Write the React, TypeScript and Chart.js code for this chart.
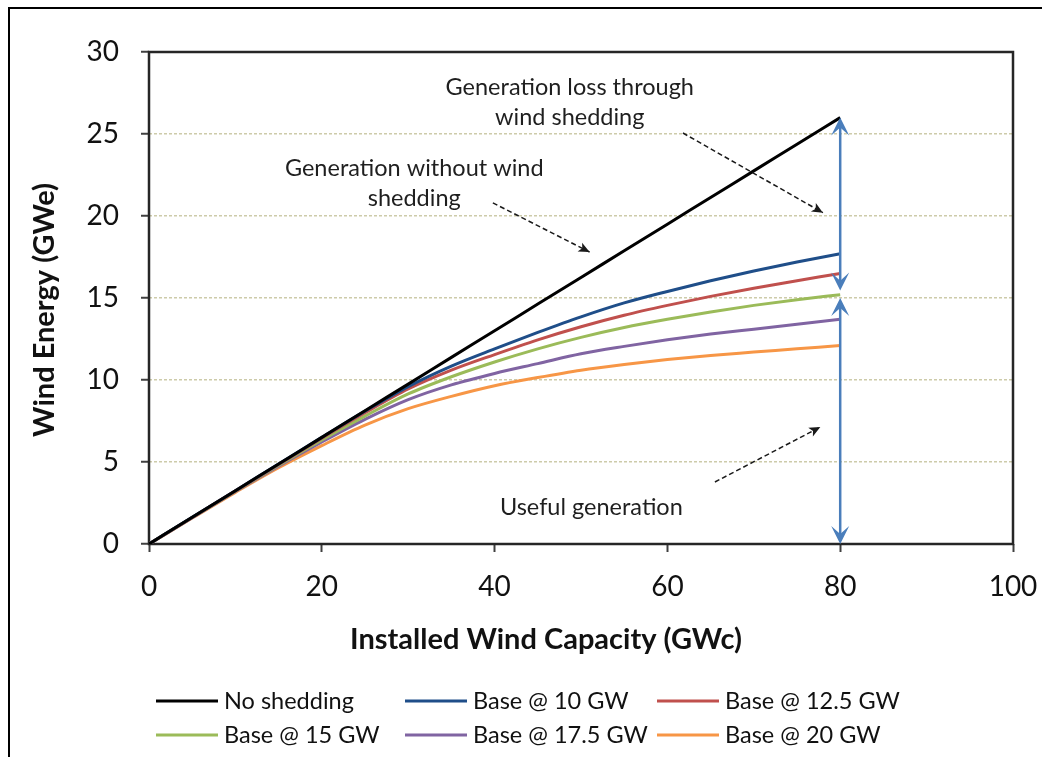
import React, { useEffect, useRef } from "react";
import { Chart, registerables } from "chart.js";

Chart.register(...registerables);

// ---------- data ----------
const capacity = [0, 5, 10, 15, 20, 25, 30, 35, 40, 45, 50, 55, 60, 65, 70, 75, 80];
const noShedding = [0, 1.63, 3.25, 4.88, 6.5, 8.13, 9.75, 11.38, 13.0, 14.63, 16.25, 17.88, 19.5, 21.13, 22.75, 24.38, 26.0];
const base10 = [0, 1.63, 3.25, 4.88, 6.5, 8.1, 9.6, 10.85, 11.9, 12.9, 13.85, 14.7, 15.4, 16.05, 16.65, 17.2, 17.7];
const base125 = [0, 1.62, 3.24, 4.85, 6.45, 8.0, 9.45, 10.6, 11.55, 12.45, 13.25, 13.95, 14.55, 15.1, 15.6, 16.05, 16.5];
const base15 = [0, 1.62, 3.22, 4.8, 6.35, 7.8, 9.15, 10.2, 11.1, 11.9, 12.6, 13.2, 13.7, 14.15, 14.55, 14.9, 15.2];
const base175 = [0, 1.6, 3.2, 4.75, 6.22, 7.6, 8.8, 9.7, 10.4, 11.0, 11.6, 12.05, 12.45, 12.8, 13.1, 13.4, 13.7];
const base20 = [0, 1.58, 3.15, 4.65, 6.0, 7.25, 8.25, 9.0, 9.65, 10.15, 10.6, 10.95, 11.25, 11.5, 11.7, 11.9, 12.1];

const seriesLabels = ["No shedding", "Base @ 10 GW", "Base @ 12.5 GW", "Base @ 15 GW", "Base @ 17.5 GW", "Base @ 20 GW"];
const seriesValues = [noShedding, base10, base125, base15, base175, base20];
const seriesColors = ["#000000", "#1f4e89", "#c0504d", "#9bbb59", "#8064a2", "#f79646"];

const xTicks = [0, 20, 40, 60, 80, 100];
const yTicks = [0, 5, 10, 15, 20, 25, 30];

const xTitle = "Installed Wind Capacity (GWc)";
const yTitle = "Wind Energy (GWe)";

// annotation texts (data coordinates: capacity, energy)
const noteLines = [
  { text: "Generation loss through", x: 48.7, y: 27.87 },
  { text: "wind shedding", x: 48.7, y: 26.04 },
  { text: "Generation without wind", x: 30.7, y: 22.93 },
  { text: "shedding", x: 30.7, y: 21.1 },
  { text: "Useful generation", x: 51.2, y: 2.2 },
];
// dashed pointer arrows [x1, y1, x2, y2]
const dashedArrows = [
  [61.8, 25.06, 78.0, 20.2],
  [39.8, 20.8, 51.0, 17.8],
  [65.5, 3.78, 77.7, 7.13],
];
// blue double arrows [x, yFrom, yTo]
const doubleArrows = [
  [80, 15.45, 26.0],
  [80, 0, 15.0],
];

const FONT = "Lato, 'Open Sans', sans-serif";

function arrowHead(ctx: CanvasRenderingContext2D, x1: number, y1: number, x2: number, y2: number, len: number, half: number, notch: number) {
  const a = Math.atan2(y2 - y1, x2 - x1);
  const c = Math.cos(a), s = Math.sin(a);
  const bx = x2 - c * len, by = y2 - s * len;
  ctx.beginPath();
  ctx.moveTo(x2, y2);
  ctx.lineTo(bx - s * half, by + c * half);
  ctx.lineTo(x2 - c * len * notch, y2 - s * len * notch);
  ctx.lineTo(bx + s * half, by - c * half);
  ctx.closePath();
  ctx.fill();
}

const decorPlugin = {
  id: "decor",
  beforeDraw(chart: any) {
    const ctx = chart.ctx;
    ctx.save();
    ctx.fillStyle = "#ffffff";
    ctx.fillRect(0, 0, chart.width, chart.height);
    ctx.strokeStyle = "#000000";
    ctx.lineWidth = 2;
    ctx.beginPath();
    ctx.moveTo(9, chart.height + 2);
    ctx.lineTo(9, 8);
    ctx.lineTo(chart.width + 2, 8);
    ctx.stroke();
    ctx.restore();
  },
  beforeDatasetsDraw(chart: any) {
    const { ctx, chartArea } = chart;
    ctx.save();
    ctx.strokeStyle = "#262626";
    ctx.lineWidth = 2.5;
    ctx.strokeRect(chartArea.left, chartArea.top, chartArea.right - chartArea.left, chartArea.bottom - chartArea.top);
    ctx.restore();
  },
  afterDatasetsDraw(chart: any) {
    const { ctx } = chart;
    const xs = chart.scales.x;
    const ys = chart.scales.y;
    ctx.save();
    // blue double arrows
    ctx.strokeStyle = "#4a7ebb";
    ctx.fillStyle = "#4a7ebb";
    ctx.lineWidth = 2.5;
    doubleArrows.forEach(([x, a, b]) => {
      const px = xs.getPixelForValue(x);
      const pa = ys.getPixelForValue(a);
      const pb = ys.getPixelForValue(b);
      ctx.beginPath();
      ctx.moveTo(px, pa - 8);
      ctx.lineTo(px, pb + 8);
      ctx.stroke();
      arrowHead(ctx, px, pb, px, pa, 18, 9, 0.55);
      arrowHead(ctx, px, pa, px, pb, 18, 9, 0.55);
    });
    // dashed arrows
    ctx.strokeStyle = "#1a1a1a";
    ctx.fillStyle = "#1a1a1a";
    ctx.lineWidth = 1.5;
    dashedArrows.forEach(([x1, y1, x2, y2]) => {
      const p1x = xs.getPixelForValue(x1), p1y = ys.getPixelForValue(y1);
      const p2x = xs.getPixelForValue(x2), p2y = ys.getPixelForValue(y2);
      ctx.setLineDash([5, 3]);
      ctx.beginPath();
      ctx.moveTo(p1x, p1y);
      ctx.lineTo(p2x, p2y);
      ctx.stroke();
      ctx.setLineDash([]);
      arrowHead(ctx, p1x, p1y, p2x, p2y, 11, 5, 0.75);
    });
    // annotation text
    ctx.fillStyle = "#1f1f1f";
    ctx.font = `23.5px ${FONT}`;
    ctx.textAlign = "center";
    ctx.textBaseline = "middle";
    noteLines.forEach((n) => {
      ctx.fillText(n.text, xs.getPixelForValue(n.x), ys.getPixelForValue(n.y));
    });
    // axis titles
    ctx.fillStyle = "#111111";
    ctx.font = `bold 29px ${FONT}`;
    ctx.fillText(xTitle, 546, 640);
    ctx.save();
    ctx.translate(45, 310);
    ctx.rotate(-Math.PI / 2);
    ctx.fillText(yTitle, 0, 0);
    ctx.restore();
    // legend
    const cols = [156, 405, 657];
    const rows = [701, 735];
    ctx.font = `23.5px ${FONT}`;
    ctx.textAlign = "left";
    chart.data.datasets.forEach((ds: any, i: number) => {
      const cx = cols[i % 3];
      const cy = rows[Math.floor(i / 3)];
      ctx.strokeStyle = ds.borderColor;
      ctx.lineWidth = 3;
      ctx.beginPath();
      ctx.moveTo(cx, cy);
      ctx.lineTo(cx + 62, cy);
      ctx.stroke();
      ctx.fillStyle = "#111111";
      ctx.fillText(ds.label, cx + 68, cy);
    });
    ctx.restore();
  },
};

export default function App() {
  const ref = useRef<HTMLCanvasElement | null>(null);
  useEffect(() => {
    if (!ref.current) return;
    const chart = new Chart(ref.current, {
      type: "line",
      data: {
        datasets: seriesValues.map((vals, i) => ({
          label: seriesLabels[i],
          data: capacity.map((c, j) => ({ x: c, y: vals[j] })),
          borderColor: seriesColors[i],
          backgroundColor: seriesColors[i],
          borderWidth: 3,
          pointRadius: 0,
          fill: false,
          cubicInterpolationMode: "monotone" as const,
        })),
      },
      options: {
        responsive: false,
        animation: false,
        events: [],
        layout: { padding: { left: 0, right: 29, top: 52, bottom: 153 } },
        plugins: { legend: { display: false }, tooltip: { enabled: false }, title: { display: false } },
        scales: {
          x: {
            type: "linear",
            min: 0,
            max: 100,
            afterFit: (s: any) => { s.height = 60; s.paddingLeft = 0; s.paddingRight = 0; },
            afterBuildTicks: (s: any) => { s.ticks = xTicks.map((v) => ({ value: v })); },
            ticks: { color: "#111111", font: { family: FONT, size: 28 }, padding: 18, maxRotation: 0 },
            grid: { display: true, drawOnChartArea: false, drawTicks: true, tickLength: 8, tickColor: "#404040", tickWidth: 2 },
            border: { display: false },
          },
          y: {
            type: "linear",
            min: 0,
            max: 30,
            afterFit: (s: any) => { s.width = 149; s.paddingTop = 0; s.paddingBottom = 0; },
            afterBuildTicks: (s: any) => { s.ticks = yTicks.map((v) => ({ value: v })); },
            ticks: { color: "#111111", font: { family: FONT, size: 28 }, padding: 22 },
            grid: { display: true, color: "#cdcbaa", lineWidth: 1.5, drawTicks: true, tickLength: 8, tickColor: "#404040", tickWidth: 2 },
            border: { display: false, dash: [3, 2] },
          },
        },
      },
      plugins: [decorPlugin],
    });
    return () => chart.destroy();
  }, []);
  return (
    <div style={{ position: "fixed", left: 0, top: 0, width: 1042, height: 757, overflow: "hidden" }}>
      <canvas ref={ref} width={1042} height={757} style={{ width: 1042, height: 757, display: "block" }} />
    </div>
  );
}
